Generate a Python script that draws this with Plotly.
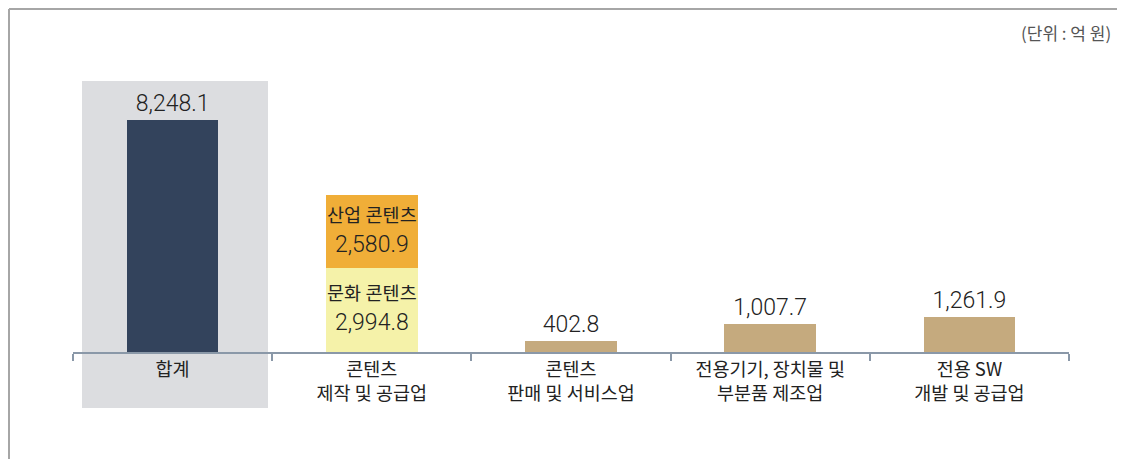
import plotly.graph_objects as go

# 데이터 (단위: 억 원)
categories = [
    "합계",
    "콘텐츠<br>제작 및 공급업",
    "콘텐츠<br>판매 및 서비스업",
    "전용기기, 장치물 및<br>부분품 제조업",
    "전용 SW<br>개발 및 공급업",
]
total_value = [8248.1]
culture_value = [2994.8]
industry_value = [2580.9]
other_values = [402.8, 1007.7, 1261.9]

NAVY = "#33435c"
YELLOW = "#f5f2a9"
ORANGE = "#f0ae38"
TAN = "#c5aa7e"
BOX_GRAY = "#dcdde0"
AXIS = "#8a98a8"
FRAME = "#a6a6a6"
TEXT = "#222222"
FONT = '"Noto Sans CJK KR", "Noto Sans", sans-serif'
NUM_FONT = 'Roboto, "Noto Sans CJK KR", sans-serif'

# 페이지 body 여백(8px)만큼 작게 잡고, 좌표는 기준 그림 픽셀에서 8을 뺀다
OFF = 8
W, H = 1125 - OFF, 459 - OFF
L, R, T, B = 73 - OFF, 56, 60 - OFF, 107
PW, PH = W - L - R, H - T - B


def px_x(x):
    return (x - OFF - L) / PW


def px_y(y):
    return (H - B - (y - OFF)) / PH


def stack_label(name, v):
    return f"<span style='font-size:18.5px;font-weight:400'>{name}</span><br>{v:,.1f}"


fig = go.Figure()
fig.add_bar(
    x=categories[:1], y=total_value, marker_color=NAVY,
    text=[f"{v:,.1f}" for v in total_value], textposition="outside",
)
fig.add_bar(
    x=categories[1:2], y=culture_value, marker_color=YELLOW,
    text=[stack_label("문화 콘텐츠", v) for v in culture_value], textposition="inside",
)
fig.add_bar(
    x=categories[1:2], y=industry_value, marker_color=ORANGE,
    text=[stack_label("산업 콘텐츠", v) for v in industry_value], textposition="inside",
)
fig.add_bar(
    x=categories[2:], y=other_values, marker_color=TAN,
    text=[f"{v:,.1f}" for v in other_values], textposition="outside",
)
fig.update_traces(
    width=0.46, marker_line_width=0, constraintext="none", cliponaxis=False,
    insidetextanchor="middle", textangle=0, hoverinfo="skip",
    textfont=dict(family=NUM_FONT, size=23, color=TEXT, weight=300),
)

fig.update_layout(
    width=W, height=H,
    barmode="stack", showlegend=False,
    paper_bgcolor="white", plot_bgcolor="rgba(0,0,0,0)",
    margin=dict(l=L, r=R, t=T, b=B, autoexpand=False),
    font=dict(family=FONT, color=TEXT),
    xaxis=dict(
        type="category", range=[-0.5, 4.5], tickson="boundaries",
        ticks="outside", ticklen=7, tickwidth=1.5, tickcolor=AXIS,
        showline=True, linecolor=AXIS, linewidth=1.5,
        showgrid=False, zeroline=False, fixedrange=True,
        tickfont=dict(family=FONT, size=18.5, color=TEXT),
    ),
    yaxis=dict(range=[0, 10380], visible=False, fixedrange=True),
    shapes=[
        # 합계 배경 박스
        dict(type="rect", xref="paper", yref="paper", layer="below",
             x0=px_x(82), x1=px_x(268), y0=px_y(408), y1=px_y(81),
             fillcolor=BOX_GRAY, line_width=0),
        # 외곽선 (위, 왼쪽)
        dict(type="line", xref="paper", yref="paper",
             x0=px_x(9), x1=px_x(1125), y0=px_y(9), y1=px_y(9),
             line=dict(color=FRAME, width=2)),
        dict(type="line", xref="paper", yref="paper",
             x0=px_x(9), x1=px_x(9), y0=px_y(9), y1=px_y(459),
             line=dict(color=FRAME, width=2)),
    ],
    annotations=[
        dict(text="(단위 : 억 원)", xref="paper", yref="paper",
             x=px_x(1113), y=px_y(32), xanchor="right", yanchor="middle",
             showarrow=False, font=dict(family=FONT, size=17, color="#555555")),
    ],
)

fig.write_html("out.html")
